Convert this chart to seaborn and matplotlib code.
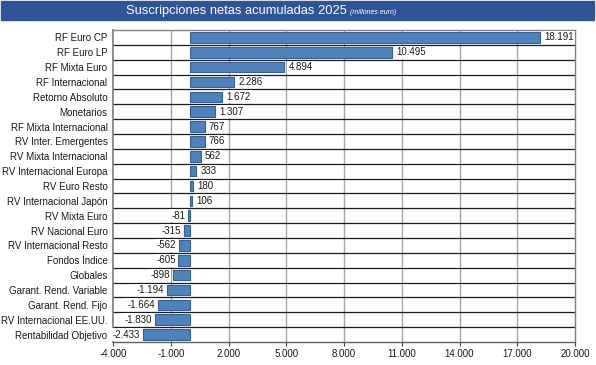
import matplotlib
matplotlib.use("Agg")
import matplotlib.pyplot as plt
import seaborn as sns
import pandas as pd
from matplotlib.patches import Rectangle
from matplotlib.ticker import FixedLocator, FuncFormatter

categories = ["RF Euro CP", "RF Euro LP", "RF Mixta Euro", "RF Internacional",
              "Retorno Absoluto", "Monetarios", "RF Mixta Internacional",
              "RV Inter. Emergentes", "RV Mixta Internacional",
              "RV Internacional Europa", "RV Euro Resto", "RV Internacional Japón",
              "RV Mixta Euro", "RV Nacional Euro", "RV Internacional Resto",
              "Fondos Índice", "Globales", "Garant. Rend. Variable",
              "Garant. Rend. Fijo", "RV Internacional EE.UU.", "Rentabilidad Objetivo"]
values = [18191, 10495, 4894, 2286, 1672, 1307, 767, 766, 562, 333, 180, 106,
          -81, -315, -562, -605, -898, -1194, -1664, -1830, -2433]
xticks = [-4000, -1000, 2000, 5000, 8000, 11000, 14000, 17000, 20000]

sns.set_theme(style="white")
plt.rcParams['font.family'] = ['Liberation Sans', 'DejaVu Sans']

def fmt(v):
    s = f"{abs(int(v)):,}".replace(",", ".")
    return ("-" if v < 0 else "") + s

df = pd.DataFrame({"cat": categories, "val": values})

fig = plt.figure(figsize=(5.96, 3.65), dpi=100)
ax = fig.add_axes([113/596, 1 - 342/365, (575-113)/596, (342-30)/365])

sns.barplot(data=df, x="val", y="cat", orient="h", color="#4F81BD",
            edgecolor="#35608F", linewidth=0.8, width=0.72, saturation=1, ax=ax)

ax.set_xlim(-4000, 20000)
ax.set_ylim(len(categories) - 0.5, -0.5)
ax.xaxis.set_major_locator(FixedLocator(xticks))
ax.xaxis.set_major_formatter(FuncFormatter(lambda v, p: fmt(v)))
ax.set_xlabel("")
ax.set_ylabel("")

# grid lines
for t in xticks[1:-1]:
    ax.axvline(t, color="#A6A6A6", lw=1.0, zorder=0)
for i in range(len(categories) - 1):
    ax.axhline(i + 0.5, color="#1A1A1A", lw=0.9, zorder=0.5)

for side in ["top", "right"]:
    ax.spines[side].set_color("#808080")
    ax.spines[side].set_linewidth(1.0)
ax.spines["left"].set_color("#808080")
ax.spines["bottom"].set_color("#606060")
ax.spines["bottom"].set_linewidth(1.0)

ax.tick_params(axis="x", labelsize=7, length=3, width=0.8, color="#404040",
               direction="out", bottom=True, pad=2, labelcolor="#1A1A1A")
ax.tick_params(axis="y", labelsize=7, length=0, pad=4, labelcolor="#1A1A1A")

for i, v in enumerate(values):
    if v >= 0:
        ax.annotate(fmt(v), (v, i), xytext=(3, 0), textcoords="offset points",
                    ha="left", va="center", fontsize=7, color="#1A1A1A",
                    bbox=dict(boxstyle="square,pad=0.15", fc="white", ec="none"))
    else:
        ax.annotate(fmt(v), (v, i), xytext=(-2, 0), textcoords="offset points",
                    ha="right", va="center", fontsize=7, color="#1A1A1A",
                    bbox=dict(boxstyle="square,pad=0.15", fc="white", ec="none"))

# title band
fig.patches.append(Rectangle((1/596, 1 - 20/365), 593/596, 19/365,
                             transform=fig.transFigure, color="#2F5597", zorder=0))
fig.text(347/596, 1 - 11/365, "Suscripciones netas acumuladas 2025", color="white",
         fontsize=9.3, ha="right", va="center")
fig.text(350/596, 1 - 12/365, "(millones euro)", color="white", fontsize=5,
         style="italic", ha="left", va="center")

fig.savefig("out.png", dpi=100)
